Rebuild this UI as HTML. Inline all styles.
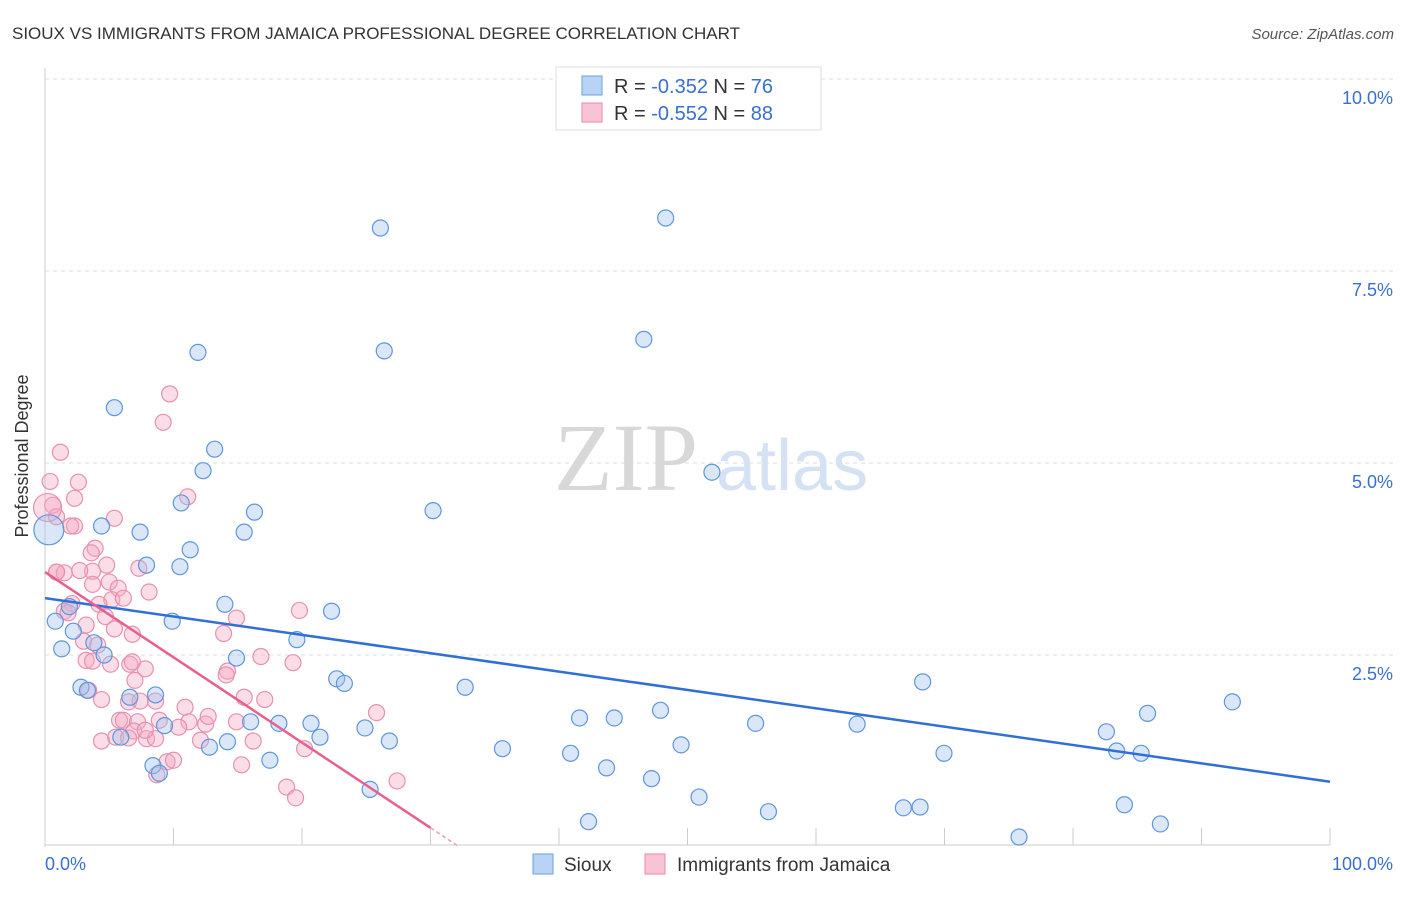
<!DOCTYPE html>
<html><head><meta charset="utf-8"><style>
body{margin:0;background:#fff;font-family:"Liberation Sans",sans-serif;}
svg text{font-family:"Liberation Sans",sans-serif;}
</style></head><body>
<svg width="1406" height="892" viewBox="0 0 1406 892">
<text x="12" y="39" font-size="17" fill="#333">SIOUX VS IMMIGRANTS FROM JAMAICA PROFESSIONAL DEGREE CORRELATION CHART</text>
<text x="1394" y="39" font-size="15" fill="#555" text-anchor="end" font-style="italic">Source: ZipAtlas.com</text>
<g id="grid"></g>
<text x="554" y="490" font-size="96" fill="#d8d8d8" font-family="Liberation Serif" style="font-family:'Liberation Serif',serif">ZIP</text>
<text x="716" y="490" font-size="72" fill="#d4e2f4">atlas</text>
<g id="points"></g>
<g id="lines"></g>
<text x="28" y="456" font-size="18" fill="#333" text-anchor="middle" transform="rotate(-90 28 456)">Professional Degree</text>
<g>
<rect x="556" y="67" width="265" height="63" fill="#fff" stroke="#ddd"/>
<rect x="582" y="76" width="20" height="19" fill="#b8d3f4" stroke="#6a9fe0"/>
<rect x="582" y="103" width="20" height="19" fill="#f8c4d4" stroke="#e888a8"/>
<text x="614" y="93" font-size="20" fill="#333">R = <tspan fill="#3a6fd0">-0.352</tspan>   N = <tspan fill="#3a6fd0">76</tspan></text>
<text x="614" y="120" font-size="20" fill="#333">R = <tspan fill="#3a6fd0">-0.552</tspan>   N = <tspan fill="#3a6fd0">88</tspan></text>
</g>
<g>
<rect x="533" y="854" width="20" height="20" fill="#b8d3f4" stroke="#6a9fe0"/>
<text x="564" y="871" font-size="19" fill="#333">Sioux</text>
<rect x="645" y="854" width="20" height="20" fill="#f8c4d4" stroke="#e888a8"/>
<text x="677" y="871" font-size="19" fill="#333">Immigrants from Jamaica</text>
</g>
</svg>
<script>
const yTicks=[2.5,5.0,7.5,10.0];
const yTickLabels=["2.5%","5.0%","7.5%","10.0%"];
const xTickLabels=["0.0%","100.0%"];
const siouxX=[26.1,48.3,11.9,26.4,46.6,5.4,13.2,12.3,51.9,10.6,16.3,30.2,4.4,7.4,15.5,11.3,7.9,10.5,14.0,22.3,9.9,0.8,1.9,2.2,1.3,3.8,4.6,19.6,14.9,2.8,3.3,6.6,8.6,22.7,23.3,32.7,68.3,92.4,85.8,41.6,44.3,47.9,55.3,63.2,16.0,18.2,20.7,24.9,9.3,21.4,26.8,5.9,12.8,14.2,49.5,35.6,40.9,69.96,82.6,83.4,85.3,17.5,8.4,8.9,43.7,47.2,25.3,50.9,56.3,66.8,68.1,84.0,42.3,86.8,75.8,0.3];
const siouxY=[8.06,8.19,6.44,6.46,6.61,5.72,5.18,4.90,4.88,4.48,4.36,4.38,4.18,4.10,4.10,3.87,3.67,3.65,3.16,3.07,2.94,2.94,3.13,2.81,2.58,2.66,2.50,2.70,2.46,2.08,2.04,1.95,1.98,2.19,2.13,2.08,2.15,1.89,1.74,1.68,1.68,1.78,1.61,1.60,1.63,1.61,1.61,1.55,1.58,1.43,1.38,1.43,1.30,1.37,1.33,1.28,1.22,1.22,1.50,1.25,1.22,1.13,1.06,0.96,1.03,0.89,0.75,0.65,0.46,0.51,0.52,0.55,0.33,0.30,0.13,4.13];
const jamX=[9.7,9.2,1.2,0.4,2.6,11.1,2.3,0.6,0.9,5.4,2.3,3.9,3.6,4.8,7.3,0.9,1.5,3.7,2.7,5.0,3.7,5.7,8.1,5.2,6.1,4.2,2.1,1.5,1.8,4.7,14.9,19.8,3.2,5.4,6.8,13.9,3.0,4.1,3.2,5.1,6.6,3.7,7.8,6.8,16.8,19.3,14.2,14.1,15.5,17.1,4.4,8.6,10.9,6.5,7.4,5.8,6.1,8.9,7.2,11.2,12.5,12.7,14.9,10.4,6.9,4.4,5.5,6.5,7.9,8.6,16.2,20.2,9.5,10.0,15.3,8.7,25.8,18.8,19.5,27.4,0.2,0.9,2.0,7.8,12.1,3.4,7.0];
const jamY=[5.90,5.53,5.14,4.76,4.75,4.56,4.54,4.45,4.30,4.28,4.18,3.89,3.83,3.67,3.63,3.58,3.57,3.59,3.60,3.45,3.42,3.37,3.32,3.22,3.24,3.16,3.17,3.07,3.05,3.00,2.98,3.08,2.89,2.84,2.77,2.78,2.68,2.63,2.43,2.38,2.38,2.42,2.32,2.41,2.48,2.40,2.29,2.24,1.95,1.92,1.92,1.90,1.82,1.89,1.90,1.65,1.65,1.65,1.63,1.63,1.60,1.70,1.63,1.56,1.51,1.38,1.43,1.42,1.41,1.41,1.38,1.28,1.11,1.13,1.07,0.94,1.75,0.78,0.64,0.86,4.42,3.58,4.18,1.52,1.39,2.04,2.17];
const siouxLine=[3.24,0.85];
const jamLine=[3.58,0.25,30];
const NS="http://www.w3.org/2000/svg";
const X0=45,X1=1330,Y0=847,PX=76.8;
function xs(v){return X0+(X1-X0)*v/100;}
function ys(v){return Y0-v*PX;}
function mk(t,a,p){const e=document.createElementNS(NS,t);for(const k in a)e.setAttribute(k,a[k]);p.appendChild(e);return e;}
const grid=document.getElementById('grid');
mk('line',{x1:45,y1:68,x2:45,y2:847,stroke:'#ccc'},grid);
mk('line',{x1:45,y1:845,x2:1330,y2:845,stroke:'#ccc'},grid);
mk('line',{x1:45,y1:79,x2:1394,y2:79,stroke:'#ddd','stroke-dasharray':'4 4'},grid);
yTicks.forEach((t,i)=>{
 if(t<10){const l=mk('line',{x1:45,y1:ys(t),x2:1394,y2:ys(t),stroke:'#ddd','stroke-dasharray':'4 4'},grid);
 
 }
 const tx=mk('text',{x:1393,y:ys(t)+25,'font-size':18,fill:'#3a6fd0','text-anchor':'end'},grid);
 tx.textContent=yTickLabels[i];
 
 
});
for(let i=1;i<=10;i++){const l=mk('line',{x1:xs(i*10),y1:828,x2:xs(i*10),y2:845,stroke:'#ccc'},grid);
 
 }
[[xTickLabels[0],45,'start'],[xTickLabels[1],1393,'end']].forEach(a=>{
 const t=mk('text',{x:a[1],y:870,'font-size':18,fill:'#3a6fd0','text-anchor':a[2]},grid);t.textContent=a[0];
 
 });
const pts=document.getElementById('points');
jamX.forEach((v,i)=>{const big=i>=80&&i<81;
 const c=mk('circle',{cx:xs(v),cy:ys(jamY[i]),r:big?14:8,fill:'rgba(245,170,195,0.4)',stroke:'#e890ae','stroke-width':1.2},pts);
 
 });
siouxX.forEach((v,i)=>{const big=i==75;
 const c=mk('circle',{cx:xs(v),cy:ys(siouxY[i]),r:big?15:8,fill:'rgba(160,195,240,0.4)',stroke:'#5f95dc','stroke-width':1.2},pts);
 
 });
const ln=document.getElementById('lines');
const b=mk('line',{x1:xs(0),y1:ys(siouxLine[0]),x2:xs(100),y2:ys(siouxLine[1]),stroke:'#2f6fd6','stroke-width':2.5},ln);


const slope=(jamLine[1]-jamLine[0])/jamLine[2];
const p=mk('line',{x1:xs(0),y1:ys(jamLine[0]),x2:xs(jamLine[2]),y2:ys(jamLine[1]),stroke:'#e8608f','stroke-width':2.5},ln);


const xe=jamLine[2]+(0-jamLine[1])/slope;
const d=mk('line',{x1:xs(jamLine[2]),y1:ys(jamLine[1]),x2:xs(xe),y2:ys(0),stroke:'#e8a0b8','stroke-width':1.5,'stroke-dasharray':'4 3'},ln);


</script>
</body></html>
